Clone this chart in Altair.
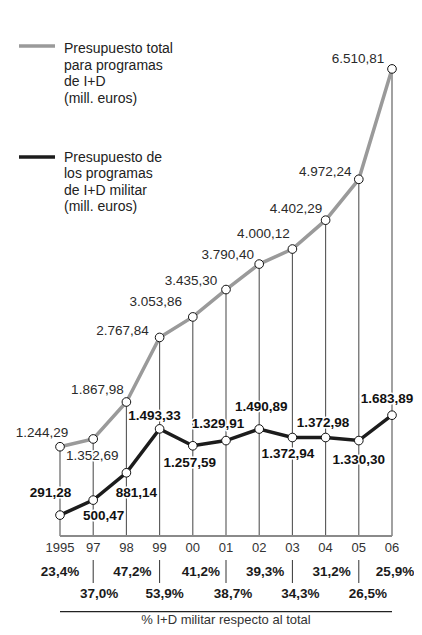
import altair as alt
import pandas as pd

# ---------------- data ----------------
years = ["1995", "97", "98", "99", "00", "01", "02", "03", "04", "05", "06"]
total = [1244.29, 1352.69, 1867.98, 2767.84, 3053.86, 3435.30, 3790.40,
         4000.12, 4402.29, 4972.24, 6510.81]
military = [291.28, 500.47, 881.14, 1493.33, 1257.59, 1329.91, 1490.89,
            1372.94, 1372.98, 1330.30, 1683.89]
pct = [23.4, 37.0, 47.2, 53.9, 41.2, 38.7, 39.3, 34.3, 31.2, 26.5, 25.9]

legend_total = "Presupuesto total\npara programas\nde I+D\n(mill. euros)"
legend_mil = "Presupuesto de\nlos programas\nde I+D militar\n(mill. euros)"
footer = "% I+D militar respecto al total"

# label offsets in pixels (layout, relative to each point)
total_dx = [-18, -1, -29, -37, -37, -35, -31.5, -29, -29.5, -33.5, -34]
total_dy = [-14, 17, -12, -6, -15, -9, -9, -15, -11, -7, -10]
mil_dx = [-9.5, 10.5, 10, -5, -3, -8, 2, -4.5, -2.5, 0, -5]
mil_dy = [-22, 16, 20, -13, 17, -17, -22, 16, -15, 19, -16]
pct_dx = [0, 6, 6, 5, 8, 7, 6, 8, 6, 9, 3]


def es_num(v):
    s = f"{v:,.2f}"
    return s.replace(",", "X").replace(".", ",").replace("X", ".")


def es_pct(v):
    return f"{v:.1f}".replace(".", ",") + "%"


n = len(years)
W, H = 332, 528
YMAX = 7360
PX_PER_I = W / (n - 1)
UNITS_PER_PX = YMAX / H

df = pd.DataFrame({
    "i": list(range(n)),
    "year": years,
    "total": total,
    "military": military,
    "pct": pct,
    "tdx": total_dx, "tdy": total_dy,
    "mdx": mil_dx, "mdy": mil_dy,
    "pdx": pct_dx,
})
df["zero"] = 0
df["tlab"] = [es_num(v) for v in total]
df["mlab"] = [es_num(v) for v in military]
df["plab"] = [es_pct(v) for v in pct]

span = pd.DataFrame({"a": [0], "b": [n - 1], "mid": [(n - 1) / 2], "z": [0], "t": [footer]})

FONT = "Liberation Sans"
xs = alt.Scale(domain=[0, n - 1])
ys = alt.Scale(domain=[0, YMAX])
X = alt.X("i:Q", scale=xs, axis=None)

base = alt.Chart(df)

rules = base.mark_rule(color="#555555", strokeWidth=1.1).encode(
    X, y=alt.Y("zero:Q", scale=ys, axis=None), y2="total:Q")

baseline = alt.Chart(span).mark_rule(color="#8a8a8a", strokeWidth=2).encode(
    x=alt.X("a:Q", scale=xs, axis=None), x2="b:Q",
    y=alt.Y("z:Q", scale=ys, axis=None))

line_t = base.mark_line(color="#9a9a9a", strokeWidth=3.5).encode(
    X, y=alt.Y("total:Q", scale=ys, axis=None))
line_m = base.mark_line(color="#1c1c1c", strokeWidth=3.5).encode(
    X, y=alt.Y("military:Q", scale=ys, axis=None))

pt_style = dict(filled=True, fill="white", stroke="#111111", strokeWidth=1,
                size=75, opacity=1, shape="circle")
pts_t = base.mark_point(**pt_style).encode(X, y=alt.Y("total:Q", scale=ys, axis=None))
pts_m = base.mark_point(**pt_style).encode(X, y=alt.Y("military:Q", scale=ys, axis=None))


def label_layers(field, lab, dxf, dyf, weight, color):
    src = base.transform_calculate(
        lx=f"datum.i + datum.{dxf} / {PX_PER_I}",
        ly=f"datum.{field} - datum.{dyf} * {UNITS_PER_PX}",
    )
    enc = dict(
        x=alt.X("lx:Q", scale=xs, axis=None),
        y=alt.Y("ly:Q", scale=ys, axis=None),
        text=f"{lab}:N",
    )
    common = dict(font=FONT, fontSize=13.5, fontWeight=weight,
                  align="center", baseline="middle")
    halo = src.mark_text(color="white", stroke="white", strokeWidth=3,
                         strokeJoin="round", **common).encode(**enc)
    txt = src.mark_text(color=color, **common).encode(**enc)
    return [halo, txt]


lab_t = label_layers("total", "tlab", "tdx", "tdy", "normal", "#2a2a2a")
lab_m = label_layers("military", "mlab", "mdx", "mdy", "bold", "#111111")

year_txt = base.mark_text(font=FONT, fontSize=13, color="#333333",
                          align="center", baseline="middle").encode(
    X, y=alt.value(540), text="year:N")

pct_common = dict(font=FONT, fontSize=13.5, fontWeight="bold", color="#1a1a1a",
                  align="center", baseline="middle")
pct_src = base.transform_calculate(px=f"datum.i + datum.pdx / {PX_PER_I}")
PX = alt.X("px:Q", scale=xs, axis=None)
pct_row1 = pct_src.transform_filter("datum.i % 2 == 0").mark_text(**pct_common).encode(
    PX, y=alt.value(564), text="plab:N")
pct_row2 = pct_src.transform_filter("datum.i % 2 == 1").mark_text(**pct_common).encode(
    PX, y=alt.value(586), text="plab:N")

seps = base.transform_filter("datum.i % 2 == 1").mark_rule(
    color="#333333", strokeWidth=1).encode(X, y=alt.value(552), y2=alt.value(575))

bottom_rule = alt.Chart(span).mark_rule(color="#222222", strokeWidth=1.2).encode(
    x=alt.X("a:Q", scale=xs, axis=None), x2="b:Q", y=alt.value(603.7))

footer_txt = alt.Chart(span).mark_text(font=FONT, fontSize=13, color="#333333",
                                       align="center", baseline="middle").encode(
    x=alt.X("mid:Q", scale=xs, axis=None), y=alt.value(612), text="t:N")

# legend
leg_line_t = alt.Chart(span).mark_rule(color="#9a9a9a", strokeWidth=3.5).encode(
    x=alt.value(-41), x2=alt.value(-5), y=alt.value(38))
leg_line_m = alt.Chart(span).mark_rule(color="#1c1c1c", strokeWidth=3.5).encode(
    x=alt.value(-41), x2=alt.value(-5), y=alt.value(149))
leg_df = pd.DataFrame({"t": [legend_total, legend_mil], "k": [0, 1]})
leg_common = dict(font=FONT, fontSize=14, color="#222222", align="left",
                  baseline="top", lineBreak="\n", lineHeight=16.5)
leg_txt1 = alt.Chart(leg_df).transform_filter("datum.k == 0").mark_text(**leg_common).encode(
    x=alt.value(4), y=alt.value(34.3), text="t:N")
leg_txt2 = alt.Chart(leg_df).transform_filter("datum.k == 1").mark_text(**leg_common).encode(
    x=alt.value(4), y=alt.value(142.5), text="t:N")

chart = alt.layer(
    rules, baseline, line_t, line_m, *lab_t, *lab_m, pts_t, pts_m,
    year_txt, pct_row1, pct_row2, seps, bottom_rule, footer_txt,
    leg_line_t, leg_line_m, leg_txt1, leg_txt2,
).properties(
    width=W, height=H,
    autosize=alt.AutoSizeParams(type="none"),
    padding={"left": 52, "top": 0, "right": 22, "bottom": 91},
).configure_view(stroke=None)

chart.save("out.html", embed_options={"renderer": "svg", "actions": False})
